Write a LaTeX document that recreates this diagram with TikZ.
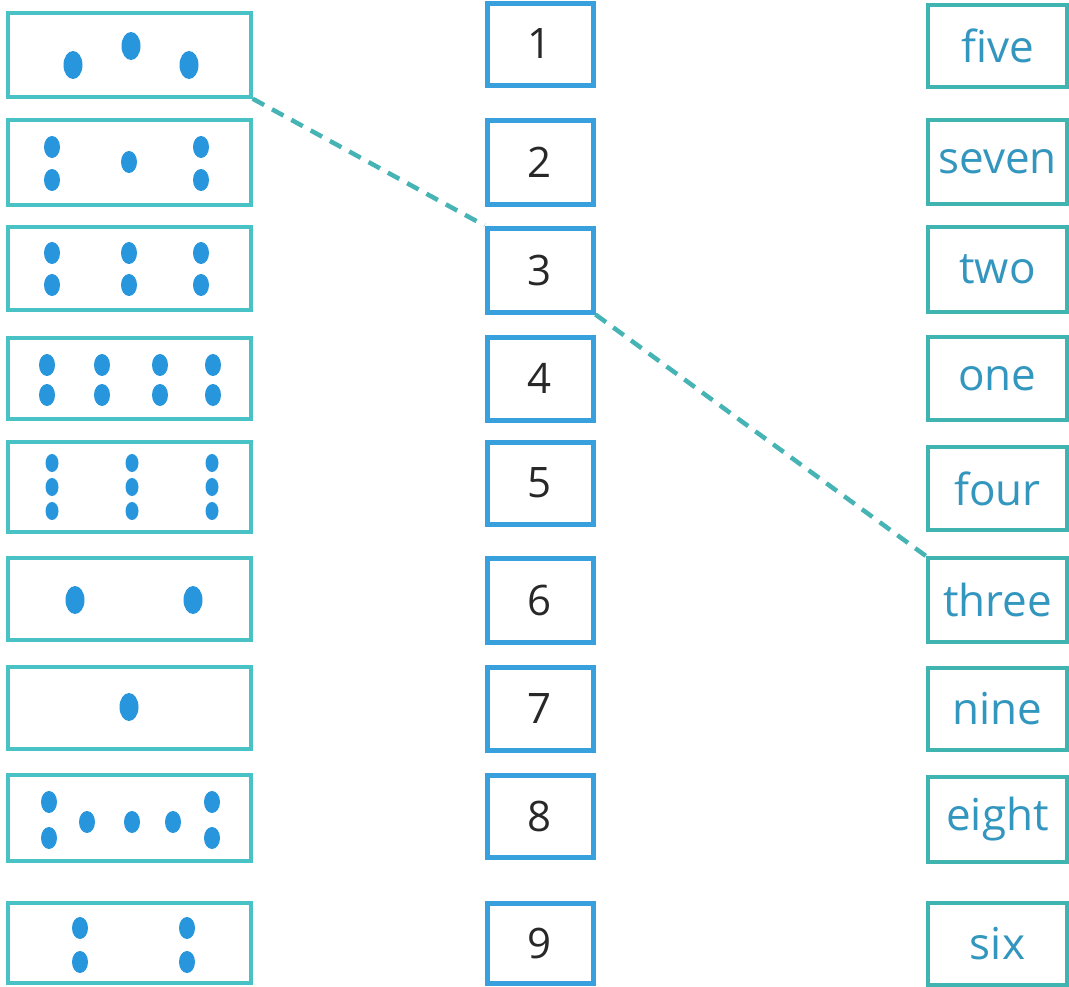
\documentclass[tikz,border=0pt]{standalone}
\usepackage{fontspec}
\setmainfont{Open Sans}
\definecolor{lboxc}{RGB}{72,194,196}
\definecolor{mboxc}{RGB}{56,160,220}
\definecolor{rboxc}{RGB}{64,180,176}
\definecolor{dotc}{RGB}{40,150,220}
\definecolor{wordc}{RGB}{50,150,190}
\definecolor{numc}{RGB}{40,40,40}
\definecolor{dashc}{RGB}{70,180,180}
\tikzset{
  lbox/.style={draw=lboxc, line width=3.5pt, minimum width=243pt, inner sep=0pt},
  mbox/.style={draw=mboxc, line width=5pt, minimum width=106pt, inner sep=0pt,
    font=\fontsize{42}{42}\selectfont, text=numc},
  rbox/.style={draw=rboxc, line width=3.5pt, minimum width=139pt, inner sep=0pt,
    font=\fontsize{44}{44}\selectfont, text=wordc},
  link/.style={draw=dashc, line width=4.5pt, dash pattern=on 13pt off 9pt},
  bigdot/.pic={\fill[dotc] (0,0) ellipse (9.5pt and 14pt);},
  meddot/.pic={\fill[dotc] (0,0) ellipse (8pt and 11pt);},
  smalldot/.pic={\fill[dotc] (0,0) ellipse (6.5pt and 9pt);}
}
\begin{document}
\begin{tikzpicture}[x=1pt,y=-1pt]
\useasboundingbox[fill=white] (0,0) rectangle (1069,986);
% left boxes
\node[lbox, minimum height=84pt] (L1) at (129.5,55) {};
\node[lbox, minimum height=85pt] (L2) at (129.5,162.5) {};
\node[lbox, minimum height=83pt] (L3) at (129.5,268.5) {};
\node[lbox, minimum height=81pt] (L4) at (129.5,378.5) {};
\node[lbox, minimum height=90pt] (L5) at (129.5,487) {};
\node[lbox, minimum height=82pt] (L6) at (129.5,599) {};
\node[lbox, minimum height=82pt] (L7) at (129.5,708) {};
\node[lbox, minimum height=86pt] (L8) at (129.5,818) {};
\node[lbox, minimum height=80pt] (L9) at (129.5,943) {};
% dots
\pic at (73,65) {bigdot}; \pic at (131,46) {bigdot}; \pic at (189,65) {bigdot};
\foreach \x in {52,201} {\pic at (\x,147) {meddot}; \pic at (\x,180) {meddot};}
\pic at (129,162) {meddot};
\foreach \x in {52,129,201} {\pic at (\x,253) {meddot}; \pic at (\x,285) {meddot};}
\foreach \x in {47,102,160,213} {\pic at (\x,365) {meddot}; \pic at (\x,395) {meddot};}
\foreach \x in {52,132,212} {\pic at (\x,463) {smalldot}; \pic at (\x,487) {smalldot}; \pic at (\x,511) {smalldot};}
\pic at (75,600) {bigdot}; \pic at (193,600) {bigdot};
\pic at (129,707) {bigdot};
\foreach \x in {49,212} {\pic at (\x,802) {meddot}; \pic at (\x,838) {meddot};}
\foreach \x in {87,132,173} {\pic at (\x,822) {meddot};}
\foreach \x in {80,187} {\pic at (\x,928) {meddot}; \pic at (\x,962) {meddot};}
% middle boxes
\node[mbox, minimum height=82pt] (M1) at (540,44) {1};
\node[mbox, minimum height=84pt] (M2) at (540,162) {2};
\node[mbox, minimum height=84pt] (M3) at (540,270) {3};
\node[mbox, minimum height=83pt] (M4) at (540,378.5) {4};
\node[mbox, minimum height=82pt] (M5) at (540,483) {5};
\node[mbox, minimum height=84pt] (M6) at (540,600) {6};
\node[mbox, minimum height=83pt] (M7) at (540,708.5) {7};
\node[mbox, minimum height=82pt] (M8) at (540,816) {8};
\node[mbox, minimum height=80pt] (M9) at (540,943) {9};
% right boxes
\node[rbox, minimum height=82pt] (R1) at (997.5,46) {five};
\node[rbox, minimum height=84pt] (R2) at (997.5,162) {seven};
\node[rbox, minimum height=85pt] (R3) at (997.5,269.5) {two};
\node[rbox, minimum height=83pt] (R4) at (997.5,378.5) {one};
\node[rbox, minimum height=83pt] (R5) at (997.5,488.5) {four};
\node[rbox, minimum height=84pt] (R6) at (997.5,600) {three};
\node[rbox, minimum height=82pt] (R7) at (997.5,709) {nine};
\node[rbox, minimum height=85pt] (R8) at (997.5,819.5) {eight};
\node[rbox, minimum height=82pt] (R9) at (997.5,944) {six};
% connectors
\draw[link] (L1.south east) -- (M3.north west);
\draw[link] (M3.south east) -- (R6.north west);
\end{tikzpicture}
\end{document}
